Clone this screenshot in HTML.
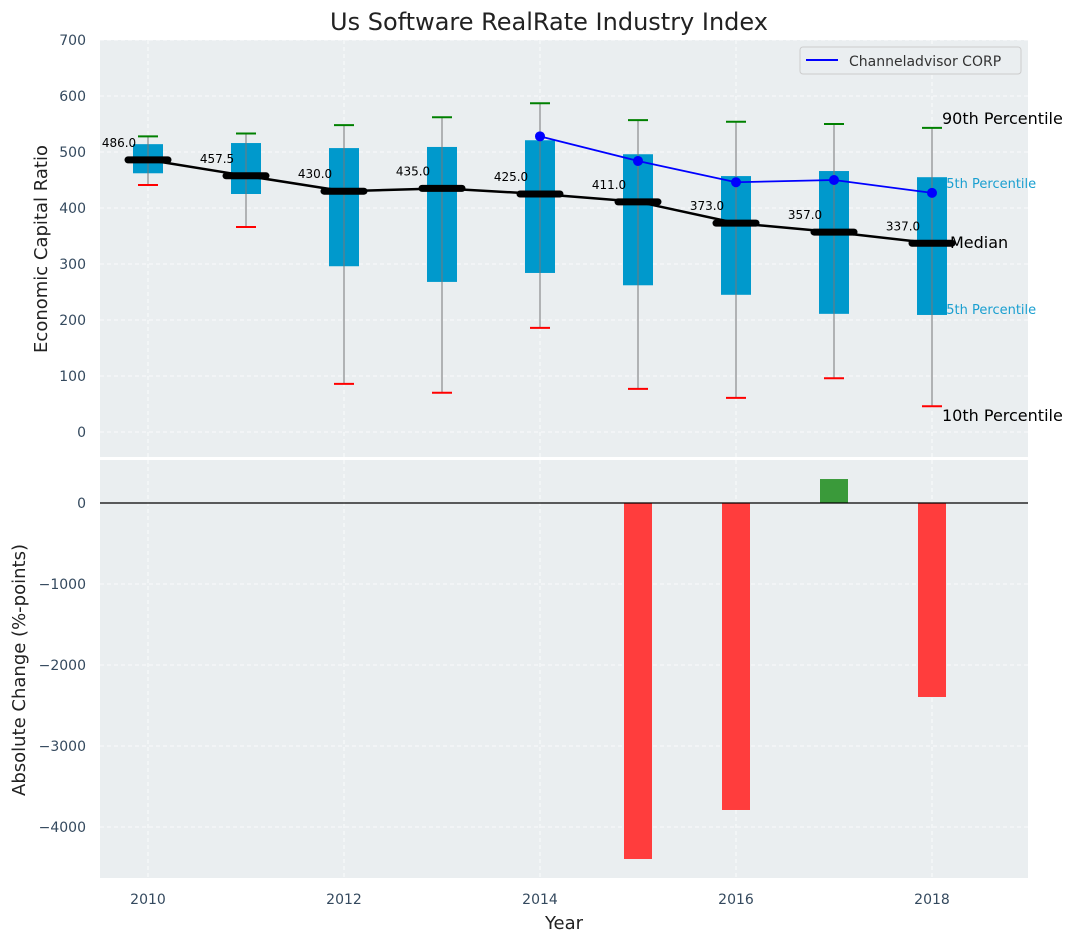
<!DOCTYPE html>
<html><head><meta charset="utf-8"><style>
body{margin:0;background:#fff;}
svg{display:block;font-family:"DejaVu Sans","Liberation Sans",sans-serif;}
</style></head><body>
<svg id="chart" width="1077" height="942" xmlns="http://www.w3.org/2000/svg">
<text x="549" y="30" text-anchor="middle" font-size="24" fill="#222">Us Software RealRate Industry Index</text>
<g id="gtop"></g>
<g id="gbot"></g>
</svg>
<script>
const years=[2010,2011,2012,2013,2014,2015,2016,2017,2018];
const p90=[528,533,548,562,587,557,554,550,543];
const p75=[514,516,507,509,521,496,457,466,455];
const median=[486,457.5,430,435,425,411,373,357,337];
const p25=[462,425,296,268,284,262,245,211,209];
const p10=[441,366,86,70,186,77,61,96,46];
const companyYears=[2014,2015,2016,2017,2018];
const companyValues=[528,484,446,450,427];
const changeYears=[2015,2016,2017,2018];
const changeValues=[-4395,-3790,296,-2395];
const topTicks=[0,100,200,300,400,500,600,700];
const botTicks=[0,-1000,-2000,-3000,-4000];
const xTicks=[2010,2012,2014,2016,2018];

const NS='http://www.w3.org/2000/svg';
const L=100,R=1028;
const X=y=>148+(y-2010)*98;
const Y1=v=>432-0.56*v;
const Y2=v=>503-0.081*v;
function mk(p,t,a){const el=document.createElementNS(NS,t);for(const k in a)el.setAttribute(k,a[k]);p.appendChild(el);return el;}
const gTop=document.getElementById('gtop'),gBot=document.getElementById('gbot');
let e=mk(gTop,'rect',{x:L,y:40,width:R-L,height:417,fill:'#eaeef0'});


e=mk(gBot,'rect',{x:L,y:460,width:R-L,height:418,fill:'#eaeef0'});


topTicks.forEach(t=>{
  mk(gTop,'line',{x1:L,x2:R,y1:Y1(t),y2:Y1(t),stroke:'#fff','stroke-dasharray':'4,3','stroke-width':0.8});
  e=mk(gTop,'text',{x:86,y:Y1(t)+5,'text-anchor':'end','font-size':14,fill:'#34495e'});e.textContent=t;
  
  
});
botTicks.forEach(t=>{
  mk(gBot,'line',{x1:L,x2:R,y1:Y2(t),y2:Y2(t),stroke:'#fff','stroke-dasharray':'4,3','stroke-width':0.8});
  e=mk(gBot,'text',{x:86,y:Y2(t)+5,'text-anchor':'end','font-size':14,fill:'#34495e'});e.textContent=t<0?'\u2212'+(-t):t;
  
  
});
xTicks.forEach(t=>{
  mk(gTop,'line',{x1:X(t),x2:X(t),y1:40,y2:457,stroke:'#fff','stroke-dasharray':'4,3','stroke-width':0.8});
  mk(gBot,'line',{x1:X(t),x2:X(t),y1:460,y2:878,stroke:'#fff','stroke-dasharray':'4,3','stroke-width':0.8});
  e=mk(gBot,'text',{x:X(t),y:904,'text-anchor':'middle','font-size':14,fill:'#34495e'});e.textContent=t;
  
  
});
[['90th Percentile',942,124,16,'#000'],['75th Percentile',938,188,13,'#1a9fd0'],['Median',950,248,16,'#000'],['25th Percentile',938,314,13,'#1a9fd0'],['10th Percentile',942,421,16,'#000']].forEach(a=>{
  e=mk(gTop,'text',{x:a[1],y:a[2],'font-size':a[3],fill:a[4]});e.textContent=a[0];
  
  
});
years.forEach((y,i)=>{
  const x=X(y);
  e=mk(gTop,'rect',{x:x-15,y:Y1(p75[i]),width:30,height:Y1(p25[i])-Y1(p75[i]),fill:'#0099cc'});
  
  
  mk(gTop,'line',{x1:x,x2:x,y1:Y1(p90[i]),y2:Y1(p10[i]),stroke:'#777','stroke-width':1});
  mk(gTop,'line',{x1:x-10,x2:x+10,y1:Y1(p90[i]),y2:Y1(p90[i]),stroke:'green','stroke-width':2});
  mk(gTop,'line',{x1:x-10,x2:x+10,y1:Y1(p10[i]),y2:Y1(p10[i]),stroke:'red','stroke-width':2});
});
e=mk(gTop,'polyline',{points:years.map((y,i)=>X(y)+','+Y1(median[i])).join(' '),fill:'none',stroke:'#000','stroke-width':2.5});


years.forEach((y,i)=>{
  const x=X(y);
  e=mk(gTop,'line',{x1:x-20,x2:x+20,y1:Y1(median[i]),y2:Y1(median[i]),stroke:'#000','stroke-width':7,'stroke-linecap':'round'});
  
  
  e=mk(gTop,'text',{x:x-29,y:Y1(median[i])-13,'text-anchor':'middle','font-size':12,fill:'#000'});e.textContent=median[i].toFixed(1);
  
  
});
e=mk(gTop,'polyline',{points:companyYears.map((y,i)=>X(y)+','+Y1(companyValues[i])).join(' '),fill:'none',stroke:'#0000ff','stroke-width':1.8});


companyYears.forEach((y,i)=>{
  e=mk(gTop,'circle',{cx:X(y),cy:Y1(companyValues[i]),r:5,fill:'#0000ff'});
  
  
});
e=mk(gTop,'rect',{x:800,y:47,width:221,height:27,rx:3,fill:'#eaeef0',stroke:'#ccc'});


mk(gTop,'line',{x1:806,x2:838,y1:60,y2:60,stroke:'#0000ff','stroke-width':2});
e=mk(gTop,'text',{x:849,y:66,'font-size':14,fill:'#333'});e.textContent='Channeladvisor CORP';


changeYears.forEach((y,i)=>{
  const v=changeValues[i],y0=Y2(0),yv=Y2(v);
  e=mk(gBot,'rect',{x:X(y)-14,y:Math.min(y0,yv),width:28,height:Math.abs(yv-y0),fill:v<0?'#ff3d3d':'#3a9a3a'});
  
  
});
mk(gBot,'line',{x1:L,x2:R,y1:Y2(0),y2:Y2(0),stroke:'#000','stroke-width':1.2});
e=mk(gTop,'text',{transform:'translate(47,249) rotate(-90)','text-anchor':'middle','font-size':18,fill:'#222'});e.textContent='Economic Capital Ratio';


e=mk(gBot,'text',{transform:'translate(25,670) rotate(-90)','text-anchor':'middle','font-size':18,fill:'#222'});e.textContent='Absolute Change (%-points)';


e=mk(gBot,'text',{x:564,y:929,'text-anchor':'middle','font-size':18,fill:'#222'});e.textContent='Year';


</script>
</body></html>
